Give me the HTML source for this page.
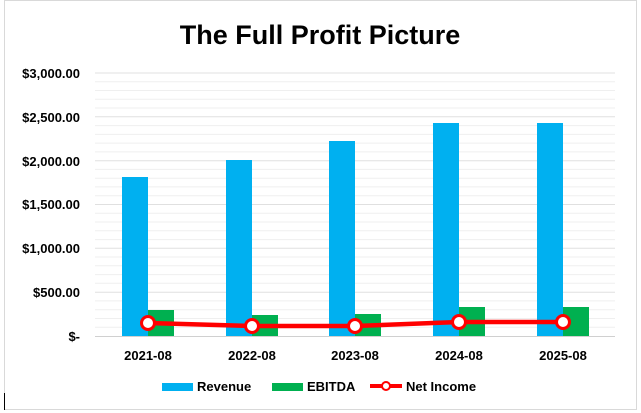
<!DOCTYPE html>
<html><head><style>body{margin:0;background:#fff}svg{display:block}</style></head><body>
<svg width="641" height="413" xmlns="http://www.w3.org/2000/svg" font-family="Liberation Sans, Arial, sans-serif">
<rect x="0" y="0" width="641" height="413" fill="#fff"/>
<rect x="4.5" y="0.5" width="632" height="409" fill="#fff" stroke="#d9d9d9"/>
<line x1="4.5" y1="393" x2="4.5" y2="410" stroke="#000" stroke-width="1"/>
<text x="320" y="44" text-anchor="middle" font-size="27" font-weight="bold" fill="#000">The Full Profit Picture</text>
<g stroke="#efefef" stroke-width="1">
<line x1="95" x2="615" y1="327.2" y2="327.2"/><line x1="95" x2="615" y1="318.5" y2="318.5"/><line x1="95" x2="615" y1="309.7" y2="309.7"/><line x1="95" x2="615" y1="300.9" y2="300.9"/>
<line x1="95" x2="615" y1="239.6" y2="239.6"/><line x1="95" x2="615" y1="230.8" y2="230.8"/><line x1="95" x2="615" y1="222" y2="222"/><line x1="95" x2="615" y1="213.3" y2="213.3"/>
<line x1="95" x2="615" y1="151.9" y2="151.9"/><line x1="95" x2="615" y1="143.1" y2="143.1"/><line x1="95" x2="615" y1="134.4" y2="134.4"/><line x1="95" x2="615" y1="125.6" y2="125.6"/>
<line x1="95" x2="615" y1="283.3" y2="283.3"/><line x1="95" x2="615" y1="274.6" y2="274.6"/><line x1="95" x2="615" y1="265.8" y2="265.8"/><line x1="95" x2="615" y1="257" y2="257"/>
<line x1="95" x2="615" y1="195.7" y2="195.7"/><line x1="95" x2="615" y1="186.9" y2="186.9"/><line x1="95" x2="615" y1="178.2" y2="178.2"/><line x1="95" x2="615" y1="169.4" y2="169.4"/>
<line x1="95" x2="615" y1="108" y2="108"/><line x1="95" x2="615" y1="99.3" y2="99.3"/><line x1="95" x2="615" y1="90.5" y2="90.5"/><line x1="95" x2="615" y1="81.8" y2="81.8"/>
</g>
<g stroke="#e0e0e0" stroke-width="1">
<line x1="95" x2="615" y1="292.2" y2="292.2"/><line x1="95" x2="615" y1="248.3" y2="248.3"/><line x1="95" x2="615" y1="204.5" y2="204.5"/><line x1="95" x2="615" y1="160.7" y2="160.7"/><line x1="95" x2="615" y1="116.8" y2="116.8"/><line x1="95" x2="615" y1="73" y2="73"/>
</g>
<g font-size="13" font-weight="bold" fill="#000" text-anchor="end">
<text x="80" y="341">$-</text><text x="80" y="297">$500.00</text><text x="80" y="253">$1,000.00</text><text x="80" y="209">$1,500.00</text><text x="80" y="166">$2,000.00</text><text x="80" y="122">$2,500.00</text><text x="80" y="78">$3,000.00</text>
</g>
<g fill="#00b0f0">
<rect x="122" y="177" width="26" height="159"/><rect x="226" y="160" width="26" height="176"/><rect x="329" y="141" width="26" height="195"/><rect x="433" y="123" width="26" height="213"/><rect x="537" y="123" width="26" height="213"/>
</g>
<g fill="#00b050">
<rect x="148" y="310" width="26" height="26"/><rect x="252" y="315" width="26" height="21"/><rect x="355" y="314" width="26" height="22"/><rect x="459" y="307" width="26" height="29"/><rect x="563" y="307" width="26" height="29"/>
</g>
<line x1="95" x2="615" y1="336.5" y2="336.5" stroke="#d0d0d0"/>
<polyline points="148,323 252,326 355,326 459,322 563,322" fill="none" stroke="#ff0000" stroke-width="4.5"/>
<g fill="#fff" stroke="#ff0000" stroke-width="3">
<circle cx="148" cy="323" r="6.5"/><circle cx="252" cy="326" r="6.5"/><circle cx="355" cy="326" r="6.5"/><circle cx="459" cy="322" r="6.5"/><circle cx="563" cy="322" r="6.5"/>
</g>
<g font-size="13" font-weight="bold" fill="#000" text-anchor="middle">
<text x="148" y="360">2021-08</text><text x="252" y="360">2022-08</text><text x="355" y="360">2023-08</text><text x="459" y="360">2024-08</text><text x="563" y="360">2025-08</text>
</g>
<rect x="162" y="383" width="31" height="8" fill="#00b0f0"/>
<text x="197" y="391" font-size="13" font-weight="bold">Revenue</text>
<rect x="272" y="383" width="31" height="8" fill="#00b050"/>
<text x="307" y="391" font-size="13" font-weight="bold">EBITDA</text>
<line x1="370" x2="402" y1="386" y2="386" stroke="#ff0000" stroke-width="4"/>
<circle cx="386" cy="386" r="4" fill="#fff" stroke="#ff0000" stroke-width="2"/>
<text x="406" y="391" font-size="13" font-weight="bold">Net Income</text>
</svg>
</body></html>
